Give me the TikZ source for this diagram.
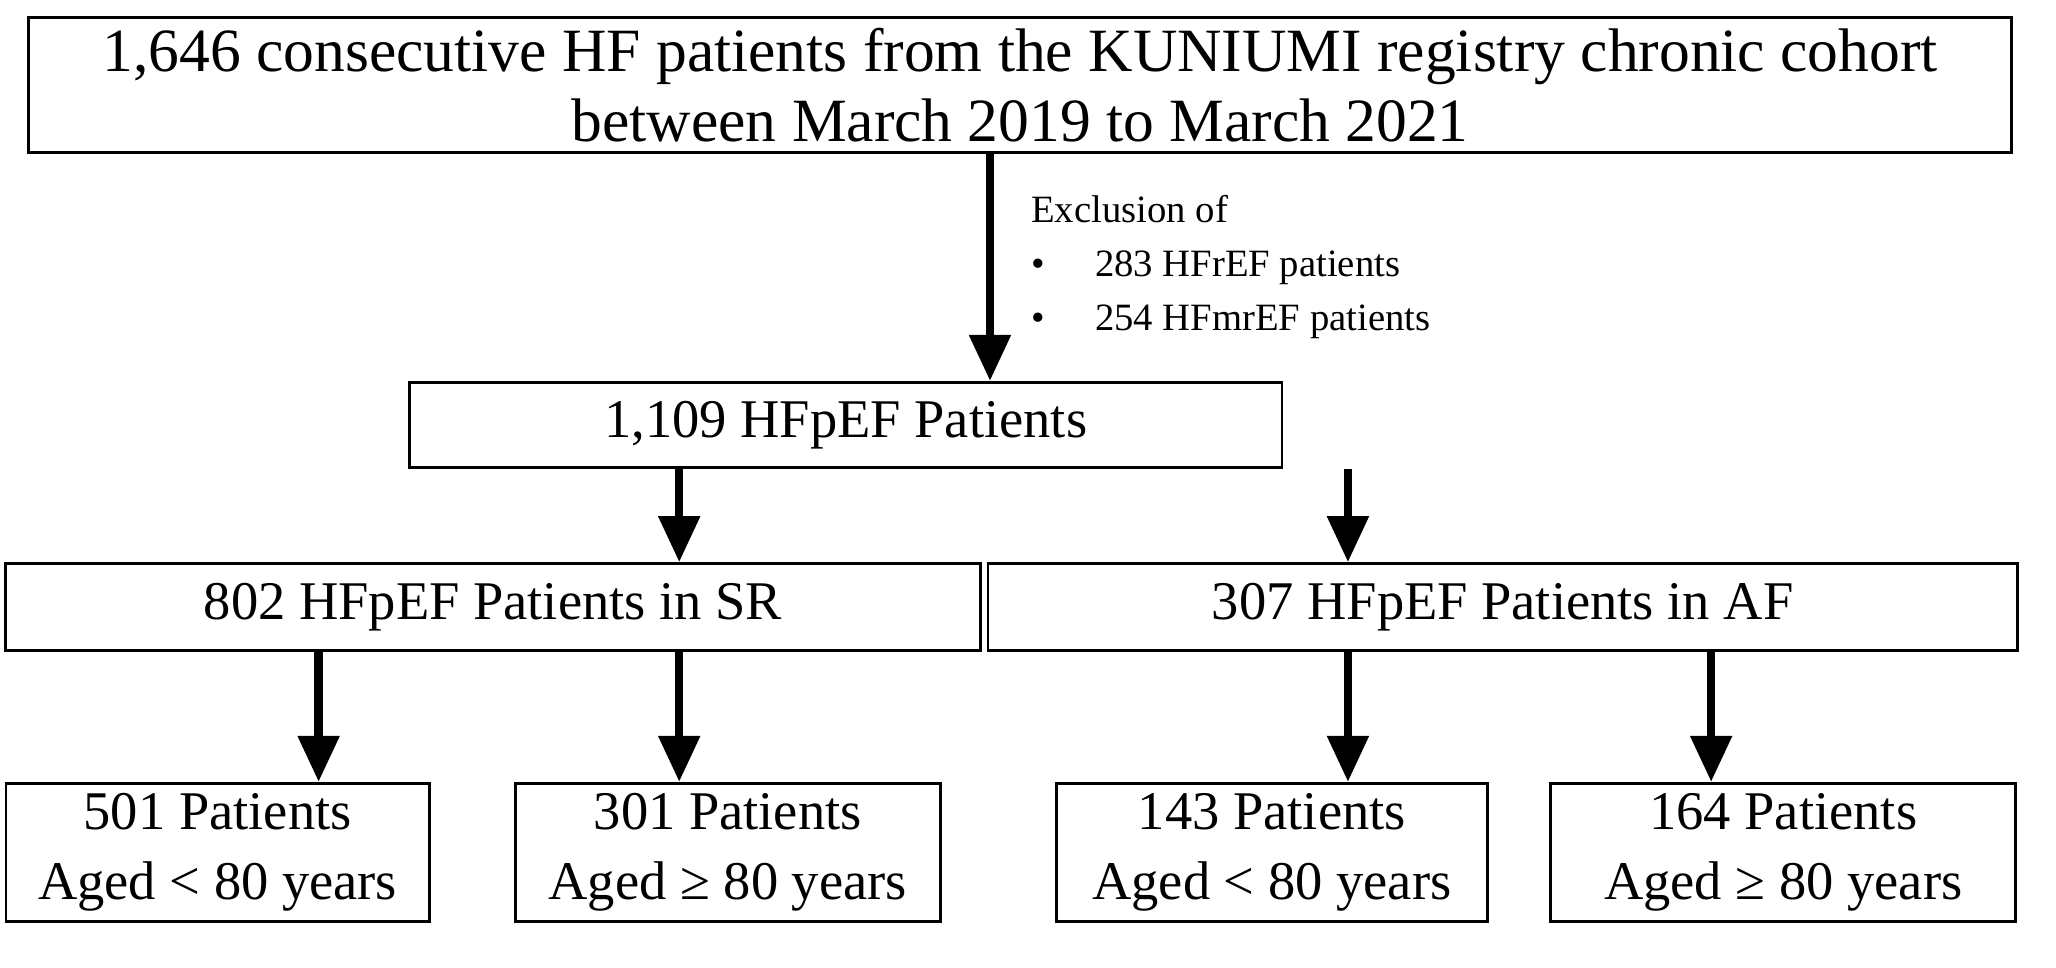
\documentclass[tikz,border=0pt]{standalone}
\usepackage{fontspec}
\setmainfont{Liberation Serif}
\usetikzlibrary{arrows.meta}
\begin{document}
\begin{tikzpicture}[x=0.01311cm,y=-0.01311cm]
      \tikzstyle{box}=[
        draw,
        thick,
        align=center,
        inner sep=0pt,
        font=\fontsize{15.5pt}{20pt}\selectfont
      ]
      \tikzstyle{arrow} = [line width=2.4pt,-{Triangle[length=4.6mm,width=4mm]}, draw=black]

      \useasboundingbox (0,0) rectangle (1568,738);

      \node[box, minimum width=19.82cm, minimum height=1.35cm, font=\fontsize{17.5pt}{20pt}\selectfont] (all) at (778 , 65) {1,646 consecutive HF patients from the KUNIUMI registry chronic cohort\\between March 2019 to March 2021};
      \node[box, minimum width=8.72cm, minimum height=0.85cm] (pef)    at (645 , 324) {1,109 HFpEF Patients};
      \node[box, minimum width=9.74cm, minimum height=0.87cm] (sr)     at (376 , 463) {802 HFpEF Patients in SR};
      \node[box, minimum width=10.29cm, minimum height=0.87cm] (af)    at (1146, 463) {307 HFpEF Patients in AF};
      \node[box, minimum width=4.23cm, minimum height=1.38cm] (srlow)  at (166 , 650) {501 Patients\\Aged < 80 years};
      \node[box, minimum width=4.25cm, minimum height=1.38cm] (srhigh) at (555 , 650) {301 Patients\\Aged ≥ 80 years};
      \node[box, minimum width=4.31cm, minimum height=1.38cm] (aflow)  at (970 , 650) {143 Patients\\Aged < 80 years};
      \node[box, minimum width=4.65cm, minimum height=1.38cm] (afhigh) at (1360, 650) {164 Patients\\Aged ≥ 80 years};

      \node[anchor=north west, align=left, inner sep=0pt, font=\fontsize{11pt}{15.5pt}\selectfont] (excl) at (786, 148)
        {Exclusion of\\\textbullet\hspace{1.3em}283 HFrEF patients\\\textbullet\hspace{1.3em}254 HFmrEF patients};

      \draw[arrow] (all.south -| 755,0) -- (pef.north -| 755,0);
      \draw[arrow] (pef.south -| 518,0) -- (sr.north -| 518,0);
      \draw[arrow] (pef.south -| 1028,0) -- (af.north -| 1028,0);
      \draw[arrow] (sr.south -| 243,0) -- (srlow.north -| 243,0);
      \draw[arrow] (sr.south -| 518,0) -- (srhigh.north -| 518,0);
      \draw[arrow] (af.south -| 1028,0) -- (aflow.north -| 1028,0);
      \draw[arrow] (af.south -| 1305,0) -- (afhigh.north -| 1305,0);
    \end{tikzpicture}
\end{document}
